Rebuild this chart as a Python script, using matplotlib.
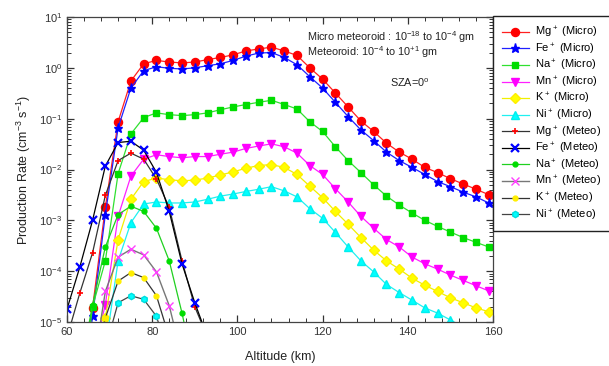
import matplotlib
matplotlib.use('Agg')
import matplotlib.pyplot as plt
from matplotlib.ticker import LogLocator, MultipleLocator, NullFormatter
import numpy as np

plt.rcParams['font.family'] = ['Liberation Sans', 'DejaVu Sans']
plt.rcParams['mathtext.default'] = 'regular'

# =============================================================================
# data
# =============================================================================
alt_micro = np.arange(63, 160, 3)   # 63 ... 159 km
mg_micro = [2e-7, 1.9e-5, 0.0018, 0.087, 0.55, 1.2, 1.4, 1.3, 1.25, 1.3, 1.45, 1.6, 1.8,
            2.15, 2.35, 2.55, 2.15, 1.75, 1.0, 0.6, 0.32, 0.17, 0.09, 0.056, 0.033, 0.022,
            0.016, 0.011, 0.0087, 0.0066, 0.0052, 0.0041, 0.0032]
fe_micro = [1e-7, 1.3e-5, 0.0013, 0.066, 0.4, 0.88, 1.05, 0.98, 0.95, 1.0, 1.1, 1.2, 1.4,
            1.7, 1.95, 2.0, 1.6, 1.15, 0.67, 0.4, 0.21, 0.11, 0.06, 0.037, 0.022, 0.015,
            0.011, 0.008, 0.0058, 0.0046, 0.0036, 0.0029, 0.0022]
na_micro = [2e-7, 2e-5, 1.6e-4, 0.0083, 0.05, 0.105, 0.13, 0.12, 0.115, 0.12, 0.13, 0.15, 0.17,
            0.19, 0.21, 0.23, 0.19, 0.155, 0.087, 0.056, 0.028, 0.015, 0.0087, 0.005, 0.003,
            0.002, 0.0014, 0.001, 7.6e-4, 5.9e-4, 4.6e-4, 3.7e-4, 3e-4]
mn_micro = [1e-7, 2e-6, 2.2e-5, 0.0012, 0.0074, 0.016, 0.0195, 0.018, 0.017, 0.018, 0.018, 0.02,
            0.022, 0.026, 0.029, 0.032, 0.028, 0.021, 0.012, 0.008, 0.0042, 0.0023, 0.0012,
            7e-4, 4.2e-4, 3e-4, 1.9e-4, 1.4e-4, 1.1e-4, 8.4e-5, 6.6e-5, 5.2e-5, 4.1e-5]
k_micro = [1e-8, 1e-7, 1.2e-5, 4.2e-4, 0.0026, 0.0058, 0.0068, 0.0063, 0.006, 0.0062, 0.0068,
           0.0078, 0.009, 0.0106, 0.012, 0.0125, 0.011, 0.008, 0.0047, 0.0028, 0.0015, 8.4e-4,
           4.6e-4, 2.6e-4, 1.6e-4, 1.1e-4, 7.3e-5, 5.3e-5, 4e-5, 3e-5, 2.4e-5, 1.9e-5, 1.6e-5]
ni_micro = [1e-9, 1e-8, 3e-6, 1.6e-4, 9e-4, 0.0021, 0.0023, 0.0022, 0.0022, 0.0023, 0.0026,
            0.003, 0.0033, 0.0037, 0.0041, 0.0046, 0.0038, 0.0029, 0.0017, 0.0011, 5.8e-4,
            3e-4, 1.6e-4, 9.7e-5, 5.5e-5, 3.8e-5, 2.7e-5, 1.9e-5, 1.5e-5, 1.1e-5, 8e-6,
            6e-6, 4.5e-6]

alt_meteo = np.arange(60, 94, 3)    # 60 ... 93 km
mg_meteo = [5e-6, 3.7e-5, 2.3e-4, 0.0031, 0.015, 0.021, 0.016, 0.0065, 0.0018, 1.6e-4, 2e-5, 5e-6]
fe_meteo = [1.8e-5, 1.2e-4, 1e-3, 0.0117, 0.034, 0.036, 0.024, 0.0088, 0.0015, 1.4e-4, 2.4e-5, 5e-6]
na_meteo = [1e-8, 1e-6, 2.2e-5, 3e-4, 0.0013, 0.0019, 0.0015, 7e-4, 1.6e-4, 1.5e-5, 1e-6, 1e-8]
mn_meteo = [1e-9, 1e-8, 1e-6, 4e-5, 1.9e-4, 2.7e-4, 2.1e-4, 9.7e-5, 2.1e-5, 2e-6, 1e-8, 1e-9]
k_meteo = [1e-9, 1e-8, 1e-6, 1.2e-5, 6.4e-5, 9.4e-5, 7.5e-5, 3.3e-5, 5e-6, 1e-7, 1e-9, 1e-9]
ni_meteo = [1e-9, 1e-9, 1e-8, 3e-6, 2.4e-5, 3.3e-5, 2.8e-5, 1.3e-5, 2e-6, 1e-8, 1e-9, 1e-9]

# =============================================================================
fig = plt.figure(figsize=(6.09, 3.66), dpi=100, facecolor='white')
ax = fig.add_axes([0.110, 0.120, 0.6995, 0.8336])

ax.plot(alt_micro, mg_micro, '-o', color='#ff2020', mfc='red', mec='red', ms=5.8, lw=0.9, label='Mg$^+$ (Micro)')
ax.plot(alt_micro, fe_micro, '-*', color='#2020ff', mfc='blue', mec='blue', ms=6.8, lw=0.9, label='Fe$^+$ (Micro)')
ax.plot(alt_micro, na_micro, '-s', color='#30e030', mfc='#00dd00', mec='#00dd00', ms=4.8, lw=0.9, label='Na$^+$ (Micro)')
ax.plot(alt_micro, mn_micro, '-v', color='#ff20ff', mfc='magenta', mec='magenta', ms=5.8, lw=0.9, label='Mn$^+$ (Micro)')
ax.plot(alt_micro, k_micro, '-D', color='#f0f000', mfc='#ffff00', mec='#ffee00', ms=4.8, lw=0.9, label='K$^+$ (Micro)')
ax.plot(alt_micro, ni_micro, '-^', color='#20f0f0', mfc='cyan', mec='#00eeee', ms=5.8, lw=0.9, label='Ni$^+$ (Micro)')

ax.plot(alt_meteo, mg_meteo, '-+', color='#333333', mec='red', ms=5, mew=1.2, lw=0.9, label='Mg$^+$ (Meteo)')
ax.plot(alt_meteo, fe_meteo, '-x', color='black', mec='blue', ms=5.5, mew=1.6, lw=0.9, label='Fe$^+$ (Meteo)')
ax.plot(alt_meteo, na_meteo, '-o', color='#20d020', mfc='#00dd00', mec='#00dd00', ms=3.5, lw=0.9, label='Na$^+$ (Meteo)')
ax.plot(alt_meteo, mn_meteo, '-x', color='#777777', mec='#ff40ff', ms=5.5, mew=1.0, lw=1.0, label='Mn$^+$ (Meteo)')
ax.plot(alt_meteo, k_meteo, '-o', color='#333333', mfc='#ffee00', mec='#ffee00', ms=3.5, lw=0.9, label='K$^+$ (Meteo)')
ax.plot(alt_meteo, ni_meteo, '-h', color='#444444', mfc='cyan', mec='#00dddd', ms=4.5, lw=0.9, label='Ni$^+$ (Meteo)')

ax.set_yscale('log')
ax.set_xlim(60, 160)
ax.set_ylim(1e-5, 10)
ax.xaxis.set_major_locator(MultipleLocator(20))
ax.xaxis.set_minor_locator(MultipleLocator(4))
ax.yaxis.set_major_locator(LogLocator(base=10, numticks=10))
ax.yaxis.set_minor_locator(LogLocator(base=10, subs=np.arange(2, 10), numticks=20))
ax.yaxis.set_minor_formatter(NullFormatter())
ax.tick_params(which='both', direction='in', top=True, right=True, labelsize=8, colors='#333333')
ax.tick_params(which='major', length=5, width=0.9)
ax.tick_params(which='minor', length=3, width=0.7)
for s in ax.spines.values():
    s.set_linewidth(0.9)
    s.set_color('#444444')

ax.set_xlabel('Altitude (km)', fontsize=9, color='#222222', labelpad=10)
ax.set_ylabel('Production Rate (cm$^{-3}$ s$^{-1}$)', fontsize=9, color='#222222', labelpad=4)

ax.text(0.563, 0.934, 'Micro meteoroid : 10$^{-18}$ to 10$^{-4}$ gm', transform=ax.transAxes,
        fontsize=7.8, va='center', ha='left', color='#222222')
ax.text(0.563, 0.885, 'Meteoroid: 10$^{-4}$ to 10$^{+1}$ gm', transform=ax.transAxes,
        fontsize=7.8, va='center', ha='left', color='#222222')
ax.text(0.758, 0.784, 'SZA=0$^o$', transform=ax.transAxes,
        fontsize=7.8, va='center', ha='left', color='#222222')

leg = ax.legend(loc='upper left', bbox_to_anchor=(493 / 609, 1 - 16 / 366), bbox_transform=fig.transFigure,
                borderaxespad=0, fontsize=8, fancybox=False, edgecolor='#222222', framealpha=1,
                handlelength=2.4, handletextpad=0.6, borderpad=0.8, labelspacing=0.12)
leg.get_frame().set_linewidth(1.0)

fig.savefig('out.png', dpi=100)
